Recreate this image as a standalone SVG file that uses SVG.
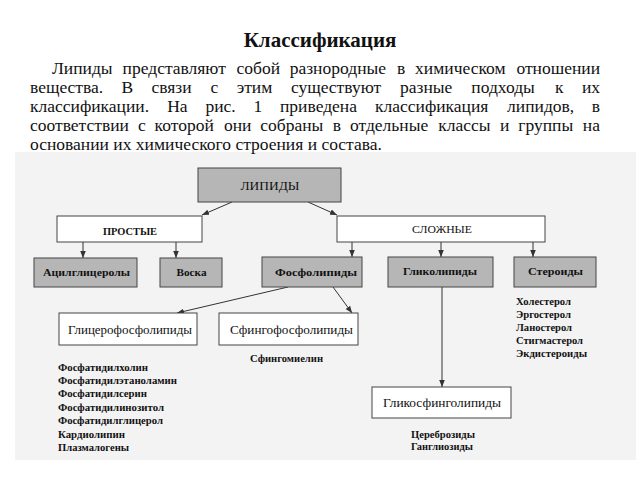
<svg xmlns="http://www.w3.org/2000/svg" width="640" height="480" viewBox="0 0 640 480">
<style>
.t{font-family:"Liberation Serif","Times New Roman",serif;fill:#111}
.p{font-size:17.5px}
.h{font-size:21px;font-weight:bold}
.g{fill:#b6b6b6;stroke:#444;stroke-width:1}
.w{fill:#fff;stroke:#444;stroke-width:1}
.lb{font-size:10.5px;font-weight:bold}
.lr{font-size:11.5px}
.li{font-size:10px;font-weight:bold}
.c{stroke:#333;stroke-width:1;fill:none;marker-end:url(#ah)}
</style>
<defs>
<marker id="ah" viewBox="0 0 10 10" refX="10" refY="5" markerWidth="7" markerHeight="7" markerUnits="userSpaceOnUse" orient="auto">
<path d="M0,1 L10,5 L0,9 Z" fill="#333"/>
</marker>
</defs>
<rect x="0" y="0" width="640" height="480" fill="#fff"/>
<rect x="15" y="152" width="621" height="308" fill="#f3f3f3"/>
<g id="header">
<text class="t h" x="320" y="47" text-anchor="middle">Классификация</text>
<text class="t p" y="74"><tspan x="52">Липиды</tspan><tspan x="122.6">представляют</tspan><tspan x="236.5">собой</tspan><tspan x="289.7">разнородные</tspan><tspan x="397">в</tspan><tspan x="415.1">химическом</tspan></text>
<text class="t p" x="600" y="74" text-anchor="end">отношении</text>
<text class="t p" y="93"><tspan x="30">вещества.</tspan><tspan x="121.4">В</tspan><tspan x="151.4">связи</tspan><tspan x="210.6">с</tspan><tspan x="236.7">этим</tspan><tspan x="290.9">существуют</tspan><tspan x="400">разные</tspan><tspan x="471.3">подходы</tspan><tspan x="555.1">к</tspan></text>
<text class="t p" x="600" y="93" text-anchor="end">их</text>
<text class="t p" y="112"><tspan x="30">классификации.</tspan><tspan x="167.2">На</tspan><tspan x="205.4">рис.</tspan><tspan x="253.5">1</tspan><tspan x="280">приведена</tspan><tspan x="375">классификация</tspan><tspan x="507.1">липидов,</tspan></text>
<text class="t p" x="600" y="112" text-anchor="end">в</text>
<text class="t p" y="131"><tspan x="30">соответствии</tspan><tspan x="137.9">с</tspan><tspan x="154.6">которой</tspan><tspan x="223.9">они</tspan><tspan x="260.3">собраны</tspan><tspan x="332.8">в</tspan><tspan x="350">отдельные</tspan><tspan x="438.2">классы</tspan><tspan x="500.1">и</tspan><tspan x="518.3">группы</tspan></text>
<text class="t p" x="600" y="131" text-anchor="end">на</text>
<text class="t p" x="30" y="150">основании их химического строения и состава.</text>
</g>
<g id="connectors">
<line class="c" x1="232" y1="202" x2="202" y2="215"/>
<line class="c" x1="308" y1="202" x2="337" y2="215"/>
<line class="c" x1="83" y1="242" x2="83" y2="258"/>
<line class="c" x1="176" y1="242" x2="176" y2="258"/>
<line class="c" x1="352" y1="242" x2="352" y2="257"/>
<line class="c" x1="441" y1="242" x2="441" y2="257"/>
<line class="c" x1="533" y1="242" x2="533" y2="257"/>
<line class="c" x1="288" y1="287" x2="177" y2="313"/>
<line class="c" x1="333" y1="287" x2="352" y2="313"/>
<line class="c" x1="442" y1="287" x2="442" y2="387"/>
</g>
<g id="lipidy">
<rect class="g" x="198" y="168" width="143" height="34"/>
<text class="t" x="270" y="190" font-size="12.5" text-anchor="middle" textLength="59" lengthAdjust="spacingAndGlyphs">ЛИПИДЫ</text>
</g>
<g id="prostye">
<rect class="w" x="57" y="216" width="145" height="26"/>
<text class="t" x="130" y="234.5" font-size="10" font-weight="bold" text-anchor="middle" textLength="54" lengthAdjust="spacingAndGlyphs">ПРОСТЫЕ</text>
</g>
<g id="slozhnye">
<rect class="w" x="337" y="216" width="208" height="26"/>
<text class="t" x="442" y="233" font-size="10.5" text-anchor="middle" textLength="60" lengthAdjust="spacingAndGlyphs">СЛОЖНЫЕ</text>
</g>
<g id="acilglicerol">
<rect class="g" x="34" y="258" width="103" height="29"/>
<text class="t lb" x="86.5" y="276" text-anchor="middle" textLength="87" lengthAdjust="spacingAndGlyphs">Ацилглицеролы</text>
</g>
<g id="voska">
<rect class="g" x="160" y="258" width="62" height="29"/>
<text class="t lb" x="191.5" y="276" text-anchor="middle" textLength="30" lengthAdjust="spacingAndGlyphs">Воска</text>
</g>
<g id="fosfolipidy">
<rect class="g" x="262" y="257" width="100" height="30"/>
<text class="t lb" x="316" y="276" text-anchor="middle" textLength="82" lengthAdjust="spacingAndGlyphs">Фосфолипиды</text>
</g>
<g id="glikolipidy">
<rect class="g" x="388" y="257" width="105" height="30"/>
<text class="t lb" x="440" y="275" text-anchor="middle" textLength="74" lengthAdjust="spacingAndGlyphs">Гликолипиды</text>
</g>
<g id="steroidy">
<rect class="g" x="514" y="257" width="82" height="30"/>
<text class="t lb" x="555.5" y="275" text-anchor="middle" textLength="55" lengthAdjust="spacingAndGlyphs">Стероиды</text>
</g>
<g id="glicerofosfolipidy">
<rect class="w" x="59" y="313" width="138" height="32"/>
<text class="t lr" x="130" y="333.5" text-anchor="middle" textLength="124" lengthAdjust="spacingAndGlyphs">Глицерофосфолипиды</text>
</g>
<g id="sfingofosfolipidy">
<rect class="w" x="219" y="313" width="139" height="32"/>
<text class="t lr" x="291.5" y="333.5" text-anchor="middle" textLength="123" lengthAdjust="spacingAndGlyphs">Сфингофосфолипиды</text>
</g>
<g id="glikosfingolipidy">
<rect class="w" x="372" y="387" width="139" height="31"/>
<text class="t lr" x="442" y="407" text-anchor="middle" textLength="118" lengthAdjust="spacingAndGlyphs">Гликосфинголипиды</text>
</g>
<g id="sfingomielin-list">
<text class="t li" x="250" y="361.5" textLength="73" lengthAdjust="spacingAndGlyphs">Сфингомиелин</text>
</g>
<g id="glicero-list">
<text class="t li" x="58" y="370.5" textLength="90" lengthAdjust="spacingAndGlyphs">Фосфатидилхолин</text>
<text class="t li" x="58" y="384" textLength="119" lengthAdjust="spacingAndGlyphs">Фосфатидилэтаноламин</text>
<text class="t li" x="58" y="397" textLength="89" lengthAdjust="spacingAndGlyphs">Фосфатидилсерин</text>
<text class="t li" x="58" y="410.5" textLength="106" lengthAdjust="spacingAndGlyphs">Фосфатидилинозитол</text>
<text class="t li" x="58" y="424" textLength="105" lengthAdjust="spacingAndGlyphs">Фосфатидилглицерол</text>
<text class="t li" x="58" y="438" textLength="67" lengthAdjust="spacingAndGlyphs">Кардиолипин</text>
<text class="t li" x="58" y="451" textLength="71" lengthAdjust="spacingAndGlyphs">Плазмалогены</text>
</g>
<g id="steroid-list">
<text class="t li" x="516" y="304.5" textLength="55" lengthAdjust="spacingAndGlyphs">Холестерол</text>
<text class="t li" x="516" y="317.5" textLength="55" lengthAdjust="spacingAndGlyphs">Эргостерол</text>
<text class="t li" x="516" y="330.5" textLength="56" lengthAdjust="spacingAndGlyphs">Ланостерол</text>
<text class="t li" x="516" y="343.5" textLength="67" lengthAdjust="spacingAndGlyphs">Стигмастерол</text>
<text class="t li" x="516" y="356.5" textLength="71" lengthAdjust="spacingAndGlyphs">Экдистероиды</text>
</g>
<g id="glikosfingo-list">
<text class="t li" x="411" y="437.5" textLength="64" lengthAdjust="spacingAndGlyphs">Цереброзиды</text>
<text class="t li" x="411" y="449.5" textLength="62" lengthAdjust="spacingAndGlyphs">Ганглиозиды</text>
</g>
</svg>
